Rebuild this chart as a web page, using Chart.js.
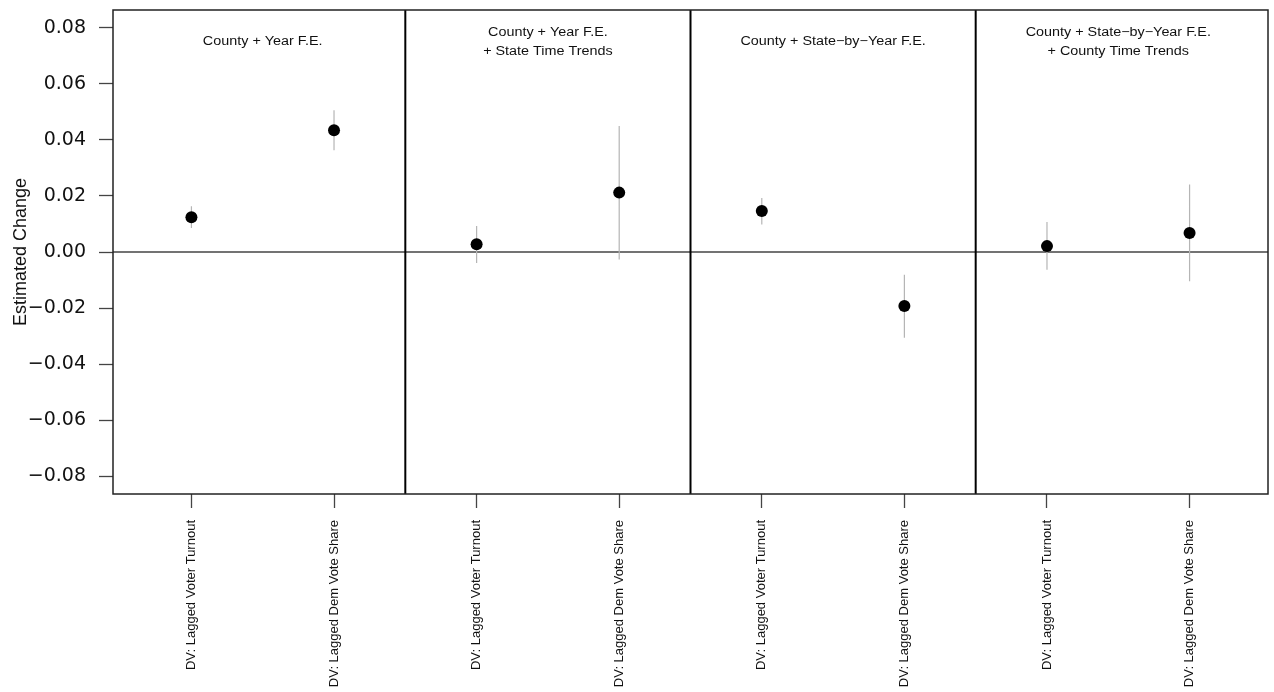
<!DOCTYPE html>
<html>
<head>
<meta charset="utf-8">
<script src="https://cdn.jsdelivr.net/npm/chart.js@4/dist/chart.umd.min.js"></script>
<style>
  html, body { margin: 0; padding: 0; background: #fff; }
  #wrap { width: 1274px; height: 692px; position: relative; }
</style>
</head>
<body>
<div id="wrap"><canvas id="chart"></canvas></div>
<script>
// positions of the eight estimates along the x axis
const xPositions = [1, 2, 3, 4, 5, 6, 7, 8];
const xLabels = [
  "DV: Lagged Voter Turnout", "DV: Lagged Dem Vote Share",
  "DV: Lagged Voter Turnout", "DV: Lagged Dem Vote Share",
  "DV: Lagged Voter Turnout", "DV: Lagged Dem Vote Share",
  "DV: Lagged Voter Turnout", "DV: Lagged Dem Vote Share"
];
const estimates = [0.0124, 0.0435, 0.0028, 0.0212, 0.0146, -0.0193, 0.0021, 0.0068];
const lower     = [0.0086, 0.0363, -0.0039, -0.0027, 0.0098, -0.0306, -0.0063, -0.0104];
const upper     = [0.0163, 0.0506, 0.0093, 0.0450, 0.0193, -0.0081, 0.0107, 0.0241];

const yTicks = [-0.08, -0.06, -0.04, -0.02, 0, 0.02, 0.04, 0.06, 0.08];

const panelTitles = [
  ["County + Year F.E."],
  ["County + Year F.E.", "+ State Time Trends"],
  ["County + State\u2212by\u2212Year F.E."],
  ["County + State\u2212by\u2212Year F.E.", "+ County Time Trends"]
];
const panelCenters = [1.5, 3.5, 5.5, 7.5];
const panelDividers = [2.5, 4.5, 6.5];

// error bars as one line broken by nulls
const barData = [];
xPositions.forEach((x, i) => {
  barData.push({ x: x, y: lower[i] });
  barData.push({ x: x, y: upper[i] });
  barData.push({ x: x, y: null });
});
const pointData = xPositions.map((x, i) => ({ x: x, y: estimates[i] }));

const fmt = v => {
  const s = Math.abs(v).toFixed(2);
  return v < -1e-9 ? "\u2212" + s : s;
};

const panels = {
  id: "panels",
  beforeDatasetsDraw(chart) {
    const { ctx, chartArea: a, scales: { y } } = chart;
    const y0 = y.getPixelForValue(0);
    ctx.save();
    ctx.strokeStyle = "#444";
    ctx.lineWidth = 1.3;
    ctx.beginPath();
    ctx.moveTo(a.left, y0);
    ctx.lineTo(a.right, y0);
    ctx.stroke();
    ctx.restore();
  },
  afterDatasetsDraw(chart) {
    const { ctx, chartArea: a, scales: { x } } = chart;
    ctx.save();
    // dividers
    ctx.strokeStyle = "#000";
    ctx.lineWidth = 2;
    panelDividers.forEach(d => {
      const px = x.getPixelForValue(d);
      ctx.beginPath();
      ctx.moveTo(px, a.top);
      ctx.lineTo(px, a.bottom);
      ctx.stroke();
    });
    // box
    ctx.strokeStyle = "#222";
    ctx.lineWidth = 1.5;
    ctx.strokeRect(a.left, a.top, a.right - a.left, a.bottom - a.top);
    // titles
    ctx.fillStyle = "#111";
    ctx.font = "12.5px 'Liberation Sans', Arial, sans-serif";
    ctx.textAlign = "center";
    ctx.textBaseline = "middle";
    panelTitles.forEach((lines, i) => {
      const cx = x.getPixelForValue(panelCenters[i]);
      const ys = lines.length === 1 ? [42] : [33, 52];
      lines.forEach((t, j) => {
        ctx.save();
        ctx.translate(cx, ys[j]);
        ctx.scale(1.15, 1);
        ctx.fillText(t, 0, 0);
        ctx.restore();
      });
    });
    ctx.restore();
  }
};

new Chart(document.getElementById("chart"), {
  type: "scatter",
  data: {
    datasets: [
      {
        label: "estimate",
        data: pointData,
        pointRadius: 6,
        pointHoverRadius: 6,
        pointBackgroundColor: "#000",
        pointBorderColor: "#000",
        pointBorderWidth: 0,
        showLine: false,
        order: 0
      },
      {
        label: "interval",
        data: barData,
        showLine: true,
        spanGaps: false,
        borderColor: "#b5b5b5",
        borderWidth: 1.2,
        pointRadius: 0,
        pointHoverRadius: 0,
        order: 1
      }
    ]
  },
  options: {
    responsive: true,
    maintainAspectRatio: false,
    animation: false,
    events: [],
    layout: { padding: { top: 10, right: 5, left: 0, bottom: 0 } },
    plugins: {
      legend: { display: false },
      tooltip: { enabled: false }
    },
    scales: {
      x: {
        type: "linear",
        min: 0.45,
        max: 8.55,
        afterBuildTicks: s => { s.ticks = xPositions.map(v => ({ value: v })); },
        afterFit: s => { s.height = 198; s.paddingLeft = 0; s.paddingRight = 0; },
        border: { display: false },
        grid: {
          drawOnChartArea: false,
          drawTicks: true,
          tickLength: 14,
          tickColor: "#444",
          tickWidth: 1.3
        },
        ticks: {
          autoSkip: false,
          minRotation: 90,
          maxRotation: 90,
          padding: 12,
          color: "#111",
          font: { family: "'Liberation Sans', Arial, sans-serif", size: 13 },
          callback: (v, i) => xLabels[i]
        }
      },
      y: {
        type: "linear",
        min: -0.0864,
        max: 0.0864,
        afterBuildTicks: s => { s.ticks = yTicks.map(v => ({ value: v })); },
        afterFit: s => { s.width = 113; s.paddingTop = 0; s.paddingBottom = 0; },
        border: { display: false },
        grid: {
          drawOnChartArea: false,
          drawTicks: true,
          tickLength: 14,
          tickColor: "#444",
          tickWidth: 1.3
        },
        ticks: {
          padding: 13,
          color: "#111",
          font: { family: "'DejaVu Sans', sans-serif", size: 19 },
          callback: v => fmt(v)
        },
        title: {
          display: true,
          text: "Estimated Change",
          color: "#111",
          padding: { top: 10, bottom: 0 },
          font: { family: "'Liberation Sans', Arial, sans-serif", size: 18 }
        }
      }
    }
  },
  plugins: [panels]
});
</script>
</body>
</html>
